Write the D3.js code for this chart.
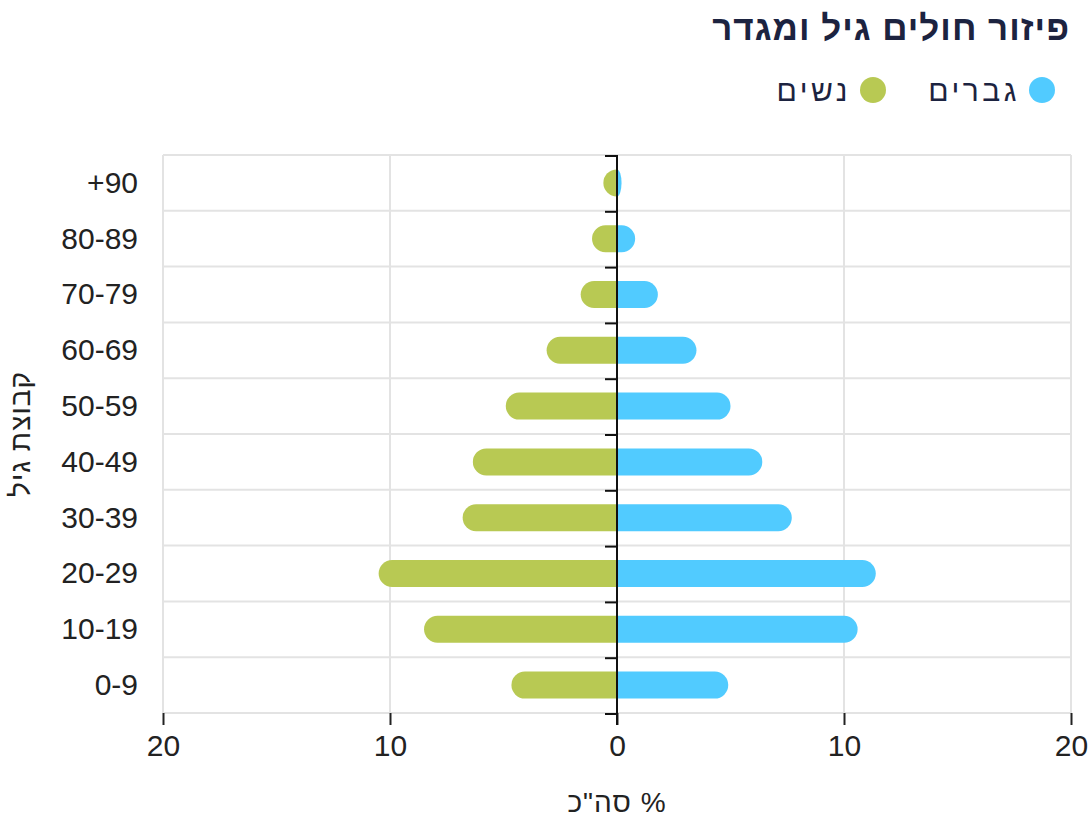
<!DOCTYPE html>
<html>
<head>
<meta charset="utf-8">
<title>פיזור חולים גיל ומגדר</title>
<script src="https://cdn.jsdelivr.net/npm/d3@7"></script>
<style>
  body { margin: 0; background: #fff; }
  svg { display: block; font-family: "Liberation Sans", Arial, sans-serif; }
</style>
</head>
<body>
<div id="container"></div>
<script>
// ---------------- data ----------------
var ageGroups = ["+90", "80-89", "70-79", "60-69", "50-59", "40-49", "30-39", "20-29", "10-19", "0-9"];
var women = [0.6, 1.1, 1.6, 3.1, 4.9, 6.35, 6.8, 10.5, 8.5, 4.65];
var men = [0.2, 0.8, 1.8, 3.5, 5.0, 6.4, 7.7, 11.4, 10.6, 4.9];
var xTicks = [-20, -10, 0, 10, 20];
var seriesNames = ["גברים", "נשים"];
var colors = { men: "#51cbff", women: "#b8c953" };

var title = "פיזור חולים גיל ומגדר",
    yTitle = "קבוצת גיל",
    xTitle = "סה\"כ %";

// ---------------- layout ----------------
var W = 1092, H = 822;
var plot = { left: 163, right: 1071, top: 155, bottom: 713 };

var svg = d3.select("#container").append("svg")
    .attr("width", W).attr("height", H);

var x = d3.scaleLinear().domain([-20, 20]).range([plot.left, plot.right]);
var y = d3.scaleBand().domain(ageGroups).range([plot.top, plot.bottom]);

var gridColor = "#e3e3e3", textColor = "#222";

// vertical grid lines
svg.append("g").selectAll("line")
    .data(xTicks.filter(function (d) { return d !== 0; }))
    .enter().append("line")
    .attr("x1", function (d) { return x(d); }).attr("x2", function (d) { return x(d); })
    .attr("y1", plot.top).attr("y2", plot.bottom)
    .attr("stroke", gridColor).attr("stroke-width", 2);

// horizontal grid lines at band edges
var edges = ageGroups.map(function (d) { return y(d); }).concat([plot.bottom]);
svg.append("g").selectAll("line")
    .data(edges)
    .enter().append("line")
    .attr("x1", plot.left).attr("x2", plot.right)
    .attr("y1", function (d) { return d; }).attr("y2", function (d) { return d; })
    .attr("stroke", gridColor).attr("stroke-width", 2);

// bottom axis
var xAxis = svg.append("g")
    .attr("transform", "translate(0," + plot.bottom + ")")
    .call(d3.axisBottom(x).tickValues(xTicks)
        .tickFormat(function (d) { return Math.abs(d); })
        .tickSize(12).tickPadding(10));
xAxis.select(".domain").remove();
xAxis.selectAll(".tick line").attr("stroke", "#222").attr("stroke-width", 2);
xAxis.selectAll(".tick text")
    .attr("fill", textColor)
    .style("font-size", "30px")
    .style("font-family", "Liberation Sans, Arial, sans-serif");

// bars with rounded outer end
var barH = 27;
function barPath(x0, x1, yc) {
    var dir = x1 >= x0 ? 1 : -1;
    var w = Math.abs(x1 - x0);
    var ry = barH / 2, rx = Math.min(ry, w);
    var top = yc - ry, bot = yc + ry;
    var sweep = dir > 0 ? 1 : 0;
    return "M" + x0 + "," + top +
        "L" + (x1 - dir * rx) + "," + top +
        "A" + rx + "," + ry + " 0 0 " + sweep + " " + x1 + "," + yc +
        "A" + rx + "," + ry + " 0 0 " + sweep + " " + (x1 - dir * rx) + "," + bot +
        "L" + x0 + "," + bot + "Z";
}

svg.append("g").selectAll("path")
    .data(ageGroups)
    .enter().append("path")
    .attr("d", function (d, i) { return barPath(x(0), x(-women[i]), y(d) + y.bandwidth() / 2); })
    .attr("fill", colors.women);

svg.append("g").selectAll("path")
    .data(ageGroups)
    .enter().append("path")
    .attr("d", function (d, i) { return barPath(x(0), x(men[i]), y(d) + y.bandwidth() / 2); })
    .attr("fill", colors.men);

// zero axis with ticks at band edges
svg.append("line")
    .attr("x1", x(0)).attr("x2", x(0))
    .attr("y1", plot.top).attr("y2", plot.bottom + 12)
    .attr("stroke", "#111").attr("stroke-width", 2);
svg.append("g").selectAll("line")
    .data(edges)
    .enter().append("line")
    .attr("x1", x(0) - 12).attr("x2", x(0))
    .attr("y1", function (d) { return d + 1; }).attr("y2", function (d) { return d + 1; })
    .attr("stroke", "#111").attr("stroke-width", 2);

// category labels
svg.append("g").selectAll("text")
    .data(ageGroups)
    .enter().append("text")
    .attr("x", 138)
    .attr("y", function (d) { return y(d) + y.bandwidth() / 2; })
    .attr("dy", "0.33em")
    .attr("text-anchor", "end")
    .attr("fill", textColor)
    .style("font-size", "30px")
    .text(function (d) { return d; });

// axis titles
svg.append("text")
    .attr("transform", "translate(30," + ((plot.top + plot.bottom) / 2) + ") rotate(-90)")
    .attr("text-anchor", "middle")
    .attr("fill", textColor)
    .style("font-size", "28px")
    .style("letter-spacing", "1px")
    .text(yTitle);

svg.append("text")
    .attr("x", x(0)).attr("y", 812)
    .attr("text-anchor", "middle")
    .attr("fill", textColor)
    .style("font-size", "28px")
    .style("letter-spacing", "1px")
    .text(xTitle);

// title
svg.append("text")
    .attr("x", 1070).attr("y", 40)
    .attr("text-anchor", "end")
    .attr("fill", "#1c2340")
    .style("font-size", "35px")
    .style("font-weight", "bold")
    .style("letter-spacing", "1px")
    .text(title);

// legend
var legend = [
    { name: seriesNames[0], color: colors.men, cx: 1042, tx: 1020 },
    { name: seriesNames[1], color: colors.women, cx: 873, tx: 851 }
];
var lg = svg.append("g").selectAll("g").data(legend).enter().append("g");
lg.append("circle")
    .attr("cx", function (d) { return d.cx; }).attr("cy", 90).attr("r", 13)
    .attr("fill", function (d) { return d.color; });
lg.append("text")
    .attr("x", function (d) { return d.tx; }).attr("y", 101)
    .attr("text-anchor", "end")
    .attr("fill", "#1c2340")
    .style("font-size", "30px")
    .style("letter-spacing", "3.5px")
    .text(function (d) { return d.name; });
</script>
</body>
</html>
